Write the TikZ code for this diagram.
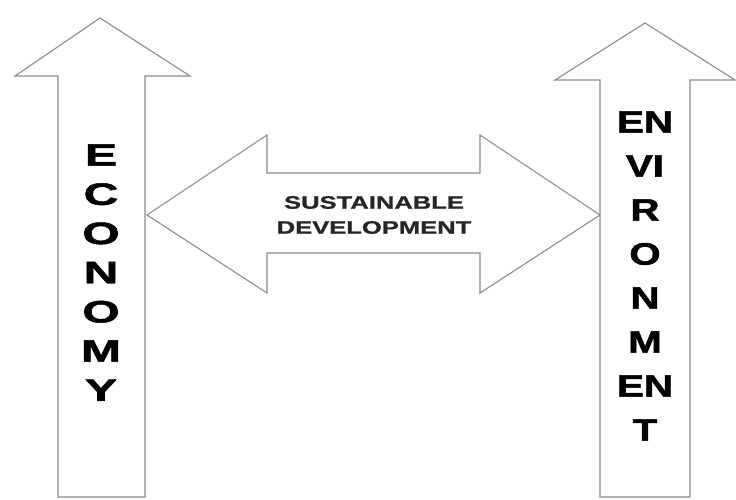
\documentclass[tikz,border=0pt]{standalone}
\usepackage{fontspec}
\setmainfont{Liberation Sans}
\newfontfamily\heavyfont{Liberation Sans}[BoldFeatures={FakeBold=1.5}]
\newfontfamily\midfont{Liberation Sans}[BoldFeatures={FakeBold=0.8}]
\begin{document}
\begin{tikzpicture}[x=1pt,y=-1pt]
\tikzset{blockarrow/.style={draw=black!45,line width=1.1pt,fill=white,line join=miter},
  letter/.style={inner sep=0pt,font=\heavyfont\bfseries\fontsize{31}{31}\selectfont}}
\useasboundingbox (0,0) rectangle (736,500);
% upward arrows
\draw[blockarrow] (58,497) -- (58,76) -- (15,76) -- (100,18) -- (190,76) -- (145,76) -- (145,497) -- cycle;
\draw[blockarrow] (600,497) -- (600,80) -- (555,80) -- (645,23) -- (735,80) -- (690,80) -- (690,497) -- cycle;
% double arrow
\draw[blockarrow] (147,215) -- (267,135) -- (267,173) -- (480,173) -- (480,135) -- (600,215)
  -- (480,293) -- (480,253) -- (267,253) -- (267,293) -- cycle;
\node[align=center,font=\midfont\bfseries\fontsize{18}{25}\selectfont,text=black!85] (sd) at (374,215)
  {\scalebox{1.42}[1]{SUSTAINABLE}\\\scalebox{1.42}[1]{DEVELOPMENT}};
\foreach \c [count=\i] in {E,C,O,N,O,M,Y}
  \node[letter] (eco\i) at (101,{115.8+39.2*\i}) {\scalebox{1.55}[1]{\c}};
\foreach \c [count=\i] in {EN,VI,R,O,N,M,EN,T}
  \node[letter] (env\i) at (645,{78+44*\i}) {\scalebox{1.3}[1]{\c}};
\end{tikzpicture}
\end{document}
